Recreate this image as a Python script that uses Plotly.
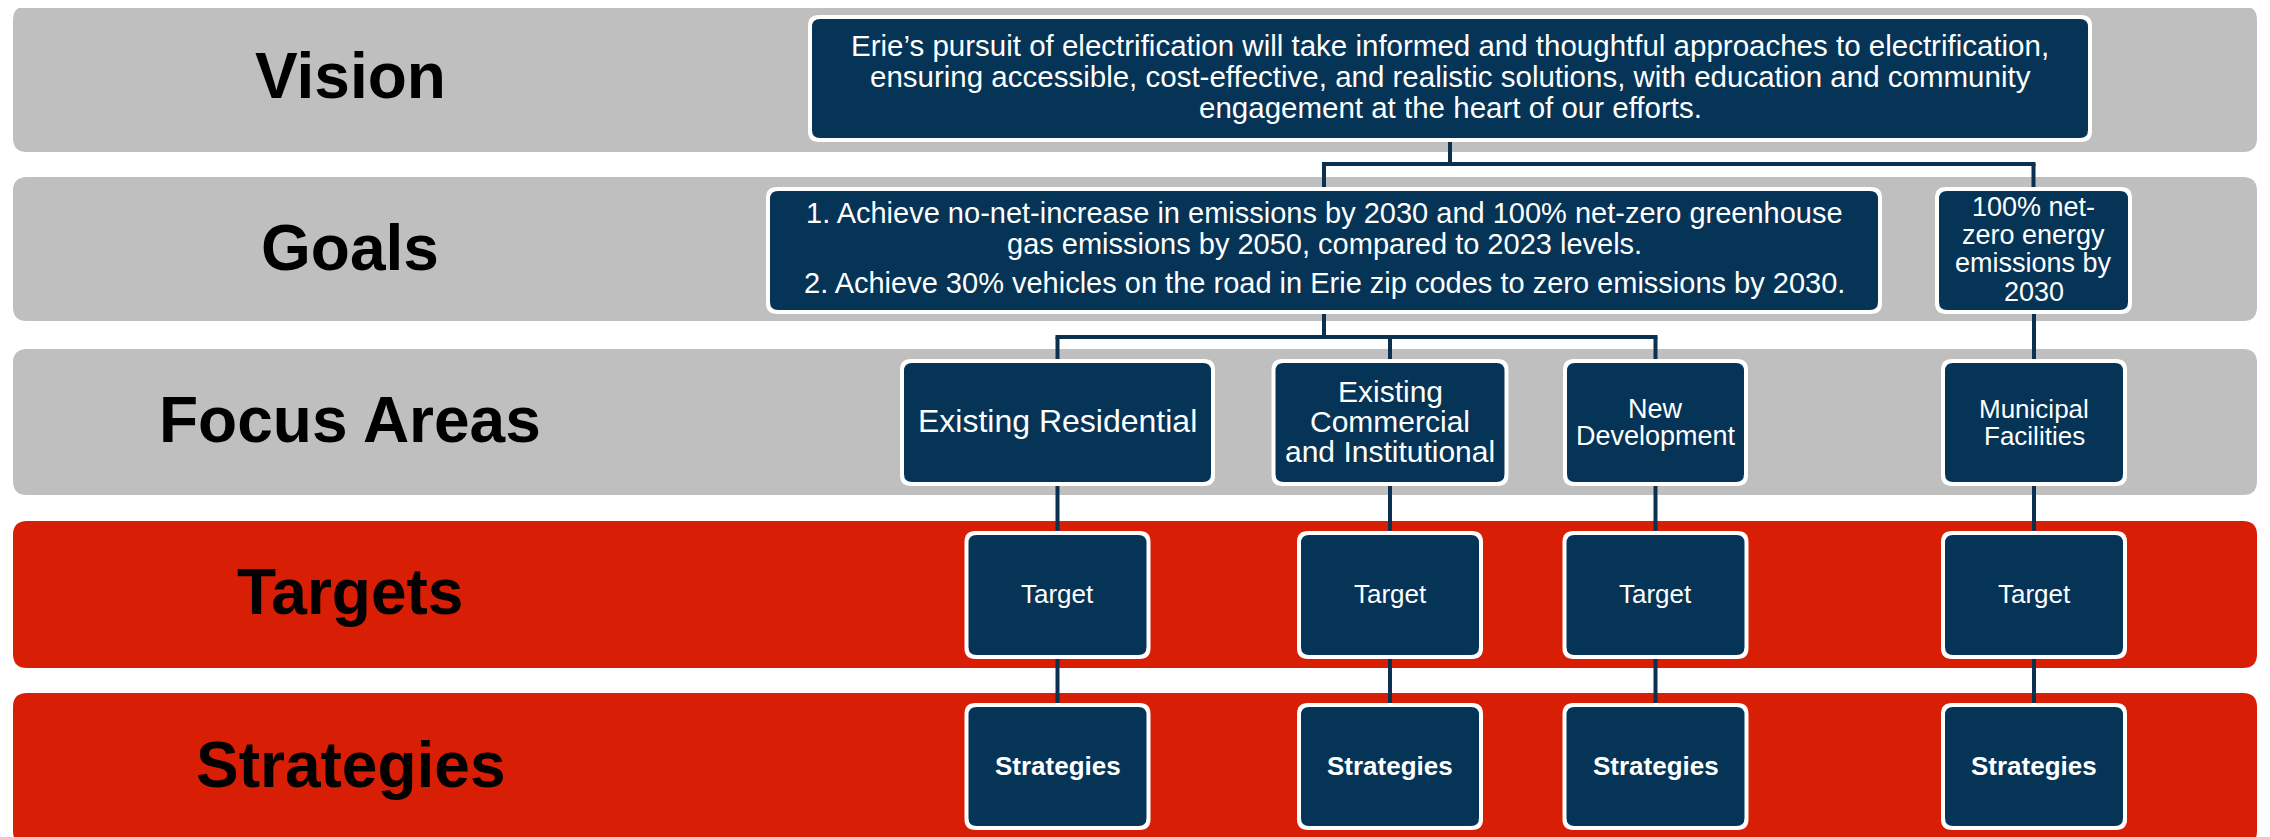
import plotly.graph_objects as go

# ---------------- content ----------------
band_labels = ["Vision", "Goals", "Focus Areas", "Targets", "Strategies"]
vision_lines = [
    "Erie’s pursuit of electrification will take informed and thoughtful approaches to electrification,",
    "ensuring accessible, cost-effective, and realistic solutions, with education and community",
    "engagement at the heart of our efforts.",
]
goal_main_lines = [
    "1. Achieve no-net-increase in emissions by 2030 and 100% net-zero greenhouse",
    "gas emissions by 2050, compared to 2023 levels.",
    "2. Achieve 30% vehicles on the road in Erie zip codes to zero emissions by 2030.",
]
goal_muni_lines = ["100% net-", "zero energy", "emissions by", "2030"]
focus_areas = [
    ["Existing Residential"],
    ["Existing", "Commercial", "and Institutional"],
    ["New", "Development"],
    ["Municipal", "Facilities"],
]
target_labels = ["Target", "Target", "Target", "Target"]
strategy_labels = ["Strategies", "Strategies", "Strategies", "Strategies"]

# ---------------- layout / style ----------------
W, H = 2270, 837
PAGE_MARGIN = 8  # default body margin of the written html page
GRAY, RED = "#BFBFBF", "#D81E05"
NAVY, LINE = "#053457", "#0B3050"
FONT = "Liberation Sans, Arial, sans-serif"

band_x = (13, 2257)
band_y = [(6, 152), (177, 321), (349, 495), (521, 668), (693, 845)]
band_colors = [GRAY, GRAY, GRAY, RED, RED]
band_label_x = 350
band_label_cy = [75.5, 248, 420, 592, 765]

vision_box = (808, 15, 2092, 142)
goal_main_box = (766, 187, 1882, 314)
goal_muni_box = (1935, 187, 2132, 314)

col_cx = [1057.5, 1390, 1655.5, 2034]
focus_w = [315, 237, 185, 186]
focus_y = (359, 486)
target_w = 186
target_y = (531, 659)
strat_y = (703, 830)

fig = go.Figure()
# invisible trace to establish axes
fig.add_trace(go.Scatter(x=[0, W], y=[0, H], mode="markers",
                         marker=dict(opacity=0), hoverinfo="skip", showlegend=False))

shapes = []
annotations = []


def rrect(x0, y0, x1, y1, r):
    return (f"M{x0+r},{y0} L{x1-r},{y0} Q{x1},{y0} {x1},{y0+r} "
            f"L{x1},{y1-r} Q{x1},{y1} {x1-r},{y1} L{x0+r},{y1} "
            f"Q{x0},{y1} {x0},{y1-r} L{x0},{y0+r} Q{x0},{y0} {x0+r},{y0} Z")


def add_path(x0, y0, x1, y1, r, color):
    shapes.append(dict(type="path", xref="x", yref="y", path=rrect(x0, y0, x1, y1, r),
                       fillcolor=color, line=dict(width=0), layer="above"))


def add_node(box):
    x0, y0, x1, y1 = box
    add_path(x0, y0, x1, y1, 11, "#FFFFFF")
    add_path(x0 + 4, y0 + 4, x1 - 4, y1 - 4, 8, NAVY)


def add_line(x0, y0, x1, y1):
    shapes.append(dict(type="line", xref="x", yref="y", x0=x0, y0=y0, x1=x1, y1=y1,
                       line=dict(color=LINE, width=4), layer="above"))


def add_text(x, baseline, text, size, bold=False, color="#FFFFFF"):
    t = f"<b>{text}</b>" if bold else text
    annotations.append(dict(x=x, y=baseline - 0.35 * size, xref="x", yref="y", text=t,
                            showarrow=False, xanchor="center", yanchor="middle",
                            font=dict(family=FONT, size=size, color=color)))


# bands
for (y0, y1), c, lab, cy in zip(band_y, band_colors, band_labels, band_label_cy):
    add_path(band_x[0], y0, band_x[1], y1, 14, c)
    annotations.append(dict(x=band_label_x, y=cy, xref="x", yref="y", text=f"<b>{lab}</b>",
                            showarrow=False, xanchor="center", yanchor="middle",
                            font=dict(family=FONT, size=64, color="#000000")))

# connectors
vcx = (vision_box[0] + vision_box[2]) / 2
gmx = (goal_main_box[0] + goal_main_box[2]) / 2
gux = (goal_muni_box[0] + goal_muni_box[2]) / 2
add_line(vcx, vision_box[3], vcx, 164)
add_line(gmx - 2, 164, gux + 2, 164)
add_line(gmx, 164, gmx, goal_main_box[1])
add_line(gux, 164, gux, goal_muni_box[1])
add_line(gmx, goal_main_box[3], gmx, 337)
add_line(col_cx[0] - 2, 337, col_cx[2] + 2, 337)
for cx in col_cx[:3]:
    add_line(cx, 337, cx, focus_y[0])
add_line(col_cx[3], goal_muni_box[3], col_cx[3], focus_y[0])
for cx in col_cx:
    add_line(cx, focus_y[1], cx, target_y[0])
    add_line(cx, target_y[1], cx, strat_y[0])

# nodes
add_node(vision_box)
add_node(goal_main_box)
add_node(goal_muni_box)
for cx, fw in zip(col_cx, focus_w):
    add_node((cx - fw / 2, focus_y[0], cx + fw / 2, focus_y[1]))
    add_node((cx - target_w / 2, target_y[0], cx + target_w / 2, target_y[1]))
    add_node((cx - target_w / 2, strat_y[0], cx + target_w / 2, strat_y[1]))

# node texts
for i, line in enumerate(vision_lines):
    add_text(vcx, 56 + 31 * i, line, 29.5)
for line, b in zip(goal_main_lines, [223.3, 254, 293.3]):
    add_text(gmx, b, line, 29)
for i, line in enumerate(goal_muni_lines):
    add_text(gux, 216.7 + 28.1 * i, line, 27)

focus_first_base = [431.7, 401.7, 418.3, 418.3]
focus_pitch = [30, 30, 26.7, 26.7]
focus_size = [32, 30, 27, 26]
for cx, lines, b0, p, s in zip(col_cx, focus_areas, focus_first_base, focus_pitch, focus_size):
    for i, line in enumerate(lines):
        add_text(cx, b0 + p * i, line, s)
for cx, t in zip(col_cx, target_labels):
    add_text(cx, 603.3, t, 26)
for cx, t in zip(col_cx, strategy_labels):
    add_text(cx, 775, t, 26, bold=True)

# the figure sits inside the page's 8px body margin, so the axes are offset
# to keep data coordinates equal to page pixels
fig.update_layout(
    width=W - PAGE_MARGIN, height=H - PAGE_MARGIN, margin=dict(l=0, r=0, t=0, b=0),
    paper_bgcolor="#FFFFFF", plot_bgcolor="#FFFFFF",
    xaxis=dict(range=[PAGE_MARGIN, W], visible=False, fixedrange=True),
    yaxis=dict(range=[H, PAGE_MARGIN], visible=False, fixedrange=True),
    shapes=shapes, annotations=annotations, showlegend=False,
)
fig.write_html("out.html", config={"displayModeBar": False})
